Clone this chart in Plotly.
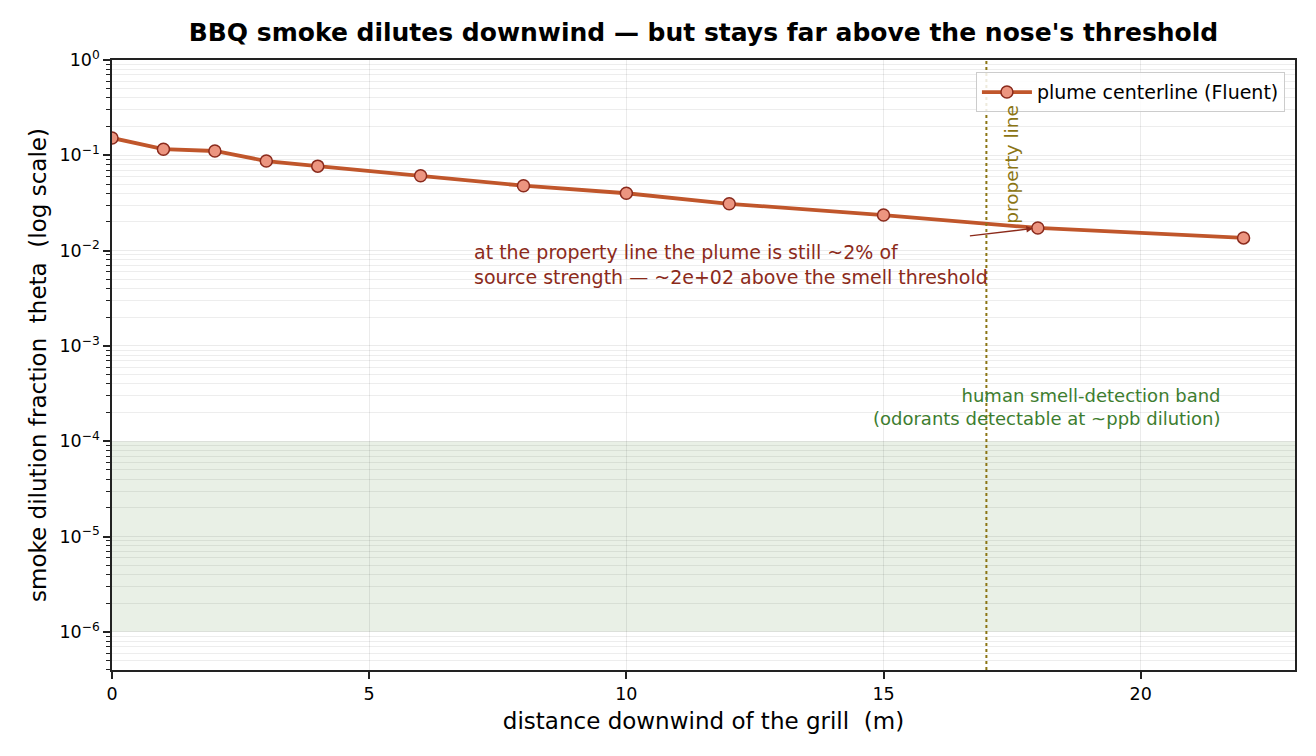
import math
import plotly.graph_objects as go

# plume centerline values
distance_m = [0, 1, 2, 3, 4, 6, 8, 10, 12, 15, 18, 22]
theta = [0.152, 0.116, 0.111, 0.087, 0.077, 0.061, 0.048, 0.040, 0.031, 0.0236, 0.0173, 0.0136]

property_line_x = 17
band_low, band_high = 1e-6, 1e-4
y_decades = [0, -1, -2, -3, -4, -5, -6]
y_ticktext = ["10<sup>0</sup>", "10<sup>\u22121</sup>", "10<sup>\u22122</sup>", "10<sup>\u22123</sup>",
              "10<sup>\u22124</sup>", "10<sup>\u22125</sup>", "10<sup>\u22126</sup>"]

FONT = "DejaVu Sans"
line_col = "#c0562b"
marker_fill = "#ec9580"
marker_edge = "#8a2a1c"
note_col = "#8b2a1a"
prop_col = "#8b7514"
band_txt_col = "#3d7d2f"

minor_vals = [k * 10.0 ** e for e in range(-7, 0) for k in range(2, 10)]

fig = go.Figure()
fig.add_trace(go.Scatter(
    x=distance_m, y=theta, mode="lines+markers",
    name="plume centerline (Fluent)",
    line=dict(color=line_col, width=3.8),
    marker=dict(size=12, color=marker_fill, line=dict(color=marker_edge, width=1.5)),
))

# smell detection band
fig.add_shape(type="rect", xref="paper", x0=0, x1=1, yref="y", y0=band_low, y1=band_high,
              fillcolor="rgba(120,160,100,0.16)", line=dict(width=0), layer="below")
# property line
fig.add_shape(type="line", xref="x", x0=property_line_x, x1=property_line_x, yref="paper", y0=0, y1=1,
              line=dict(color=prop_col, width=2, dash="dot"))

fig.add_annotation(x=property_line_x + 0.47, y=math.log10(0.079), text="property line", textangle=-90,
                   showarrow=False, font=dict(family=FONT, size=18.5, color=prop_col))

fig.add_annotation(x=7.0, y=-1.88, xanchor="left", yanchor="top", align="left",
                   text="at the property line the plume is still ~2% of<br>source strength \u2014 ~2e+02 above the smell threshold",
                   showarrow=False, font=dict(family=FONT, size=19, color=note_col))
fig.add_annotation(x=18, y=math.log10(theta[10]), ax=16.65, ay=math.log10(0.0142),
                   axref="x", ayref="y", text="", showarrow=True,
                   arrowhead=2, arrowsize=1, arrowwidth=1.3, arrowcolor=note_col, standoff=5)

fig.add_annotation(x=21.6, y=-3.89, xanchor="right", yanchor="bottom", align="right",
                   text="human smell-detection band<br>(odorants detectable at ~ppb dilution)",
                   showarrow=False, font=dict(family=FONT, size=18, color=band_txt_col))

fig.update_layout(
    width=1300, height=740,
    margin=dict(l=104, r=13, t=52, b=78),
    paper_bgcolor="white", plot_bgcolor="white",
    font=dict(family=FONT, size=17.5, color="black"),
    title=dict(text="<b>BBQ smoke dilutes downwind \u2014 but stays far above the nose's threshold</b>",
               x=0.535, xanchor="center", y=0.9676, yanchor="middle", font=dict(size=25)),
    legend=dict(x=0.9915, y=0.98, xanchor="right", yanchor="top", bgcolor="rgba(255,255,255,0.85)",
                bordercolor="#cccccc", borderwidth=1, font=dict(size=19), itemwidth=50),
    showlegend=True,
)
fig.update_xaxes(
    range=[0, 23], tickvals=[0, 5, 10, 15, 20], ticks="outside", ticklen=7, tickwidth=1.5, tickcolor="#222",
    showline=True, linecolor="#222", linewidth=1.5, mirror=True,
    showgrid=True, gridcolor="rgba(0,0,0,0.08)", zeroline=False,
    title=dict(text="distance downwind of the grill\u00a0 (m)", font=dict(size=23), standoff=10),
    tickfont=dict(size=17.5),
)
fig.update_yaxes(
    type="log", range=[-6.4, 0], tickvals=[10.0 ** d for d in y_decades], ticktext=y_ticktext,
    ticks="outside", ticklen=7, tickwidth=1.5, tickcolor="#222",
    showline=True, linecolor="#222", linewidth=1.5, mirror=True,
    showgrid=True, gridcolor="rgba(0,0,0,0.08)", zeroline=False,
    minor=dict(tickvals=minor_vals, ticks="outside", ticklen=4, tickwidth=1, tickcolor="#222",
               showgrid=True, gridcolor="rgba(0,0,0,0.07)"),
    title=dict(text="smoke dilution fraction\u00a0 theta\u00a0 (log scale)", font=dict(size=23), standoff=6),
    tickfont=dict(size=17.5),
)

fig.write_html("out.html")
